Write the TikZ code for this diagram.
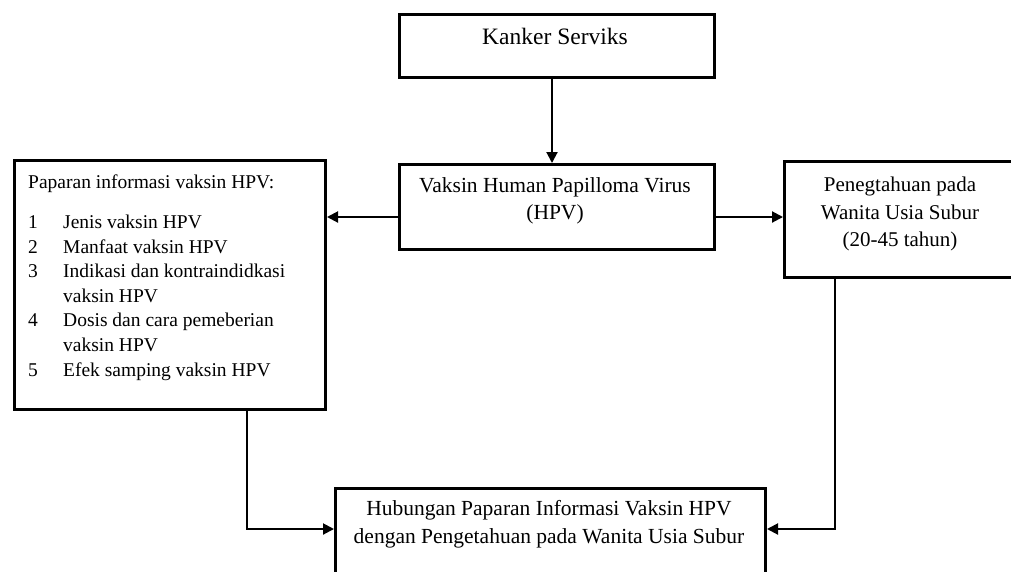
\documentclass[tikz,border=0pt]{standalone}
\usepackage{fontspec}
\setmainfont{Liberation Serif}
\usetikzlibrary{arrows.meta}
\begin{document}
\begin{tikzpicture}[x=1pt,y=-1pt,
  boxframe/.style={draw=black, line width=3pt, fill=none, inner sep=0pt, anchor=north west},
  conn/.style={draw=black, line width=2pt, -{Triangle[length=11pt,width=11pt]}},
  lbl/.style={inner sep=0pt, align=center, font=\fontsize{21.5}{27.5}\selectfont}
]
\useasboundingbox (0,0) rectangle (1011,571);
\clip (0,0) rectangle (1011,571);
\fill[white] (0,0) rectangle (1011,571);

% boxes
\node[boxframe, minimum width=315pt, minimum height=63pt] (ks) at (398,13) {};
\node[boxframe, minimum width=315pt, minimum height=85pt] (hpv) at (398,163) {};
\node[boxframe, minimum width=311pt, minimum height=249pt] (info) at (13,159) {};
\node[boxframe, minimum width=240pt, minimum height=116pt] (pen) at (783,160) {};
\node[boxframe, minimum width=430pt, minimum height=120pt] (hub) at (334,487) {};

% texts
\node[lbl, font=\fontsize{23.5}{28}\selectfont] (ksT) at (555,36) {Kanker Serviks};
\node[lbl] (hpvT) at (555,201) {Vaksin Human Papilloma Virus\\(HPV)};
\node[lbl, font=\fontsize{21}{27.5}\selectfont] (penT) at (900,214) {Penegtahuan pada\\Wanita Usia Subur\\(20-45 tahun)};
\node[lbl] (hubT) at (549,524) {Hubungan Paparan Informasi Vaksin HPV\\dengan Pengetahuan pada Wanita Usia Subur};
\node[inner sep=0pt, align=left, anchor=north west, font=\fontsize{19.5}{24.6}\selectfont] (infoT) at (28,175)
{Paparan informasi vaksin HPV:\\[15pt]
\makebox[35pt][l]{1}Jenis vaksin HPV\\
\makebox[35pt][l]{2}Manfaat vaksin HPV\\
\makebox[35pt][l]{3}Indikasi dan kontraindidkasi\\
\hspace*{35pt}vaksin HPV\\
\makebox[35pt][l]{4}Dosis dan cara pemeberian\\
\hspace*{35pt}vaksin HPV\\
\makebox[35pt][l]{5}Efek samping vaksin HPV};

% connector helper coordinates
\coordinate (infoDown) at (247,408);
\coordinate (penDown) at (835,276);
\coordinate (bendL) at (247,529);
\coordinate (bendR) at (835,529);

% connectors
\draw[conn] (ks.south -| 552,0) -- (hpv.north -| 552,0);
\draw[conn] (hpv.west |- 0,217) -- (info.east |- 0,217);
\draw[conn] (hpv.east |- 0,217) -- (pen.west |- 0,217);
\draw[conn] (infoDown) -- (bendL) -- (hub.west |- bendL);
\draw[conn] (penDown) -- (bendR) -- (hub.east |- bendR);
\end{tikzpicture}
\end{document}
